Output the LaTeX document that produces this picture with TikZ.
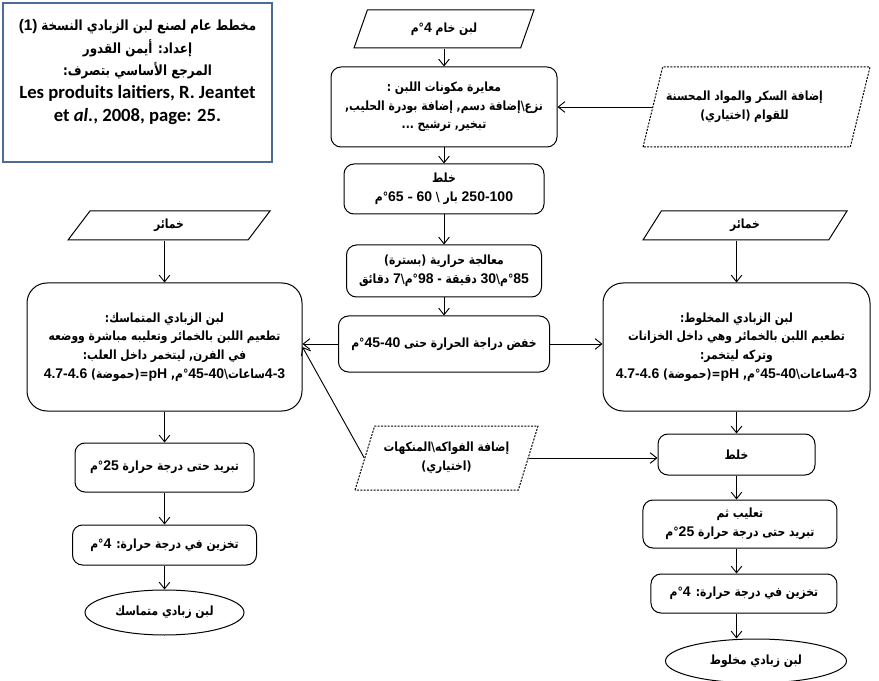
\documentclass[tikz,border=0pt]{standalone}
\usepackage{fontspec}
\setmainfont{Liberation Sans}
\newfontfamily\arfont[Script=Arabic,FakeStretch=0.85]{DejaVu Sans}
\newfontfamily\calfont{Carlito}
\TeXXeTstate=1
\usetikzlibrary{arrows.meta,positioning,shapes.geometric}
\definecolor{frameblue}{HTML}{4F6B95}
\newcommand{\ar}[1]{{\arfont\bfseries\beginR #1\endR}}
\newcommand{\nm}[1]{{\rmfamily\bfseries\fontsize{10.5}{14}\selectfont #1}}
\tikzset{
  stepbox/.style={
    rectangle, rounded corners=7.5pt, draw=black, line width=0.75pt,
    align=center, inner sep=2pt,
    font=\fontsize{9.5}{14}\selectfont
  },
  inpara/.style 2 args={
    trapezium, trapezium stretches body, draw=black, line width=0.75pt,
    trapezium left angle=#1, trapezium right angle=#2,
    align=center, inner sep=1pt,
    font=\fontsize{9.5}{14}\selectfont
  },
  optpara/.style 2 args={
    inpara={#1}{#2}, dash pattern=on 1.5pt off 1pt
  },
  endell/.style={
    ellipse, draw=black, line width=0.75pt, inner sep=0pt,
    font=\fontsize{9.5}{14}\selectfont
  },
  titlebox/.style={
    rectangle, draw=frameblue, line width=2pt,
    minimum width=201.75pt, minimum height=119.25pt
  },
  titletext/.style={
    align=center, font=\fontsize{10.5}{17.2}\selectfont
  },
  flowarrow/.style={
    -{Straight Barb[length=5pt,width=8pt]}, line width=0.7pt, color=black
  },
}

\begin{document}
\begin{tikzpicture}[x=0.75pt,y=-0.75pt]
\useasboundingbox (0,0) rectangle (879,681);

% title block
\node[titlebox] (frame) at (137.5,82.5) {};
\node[titletext] (title) at (137.5,72) {%
  {\rmfamily\bfseries\fontsize{11.5}{17}\selectfont (1)} \ar{مخطط عام لصنع لبن الزبادي النسخة}\\
  \ar{إعداد: أيمن القدور}\\
  \ar{المرجع الأساسي بتصرف:}\\
  {\calfont\bfseries\fontsize{14}{17}\selectfont Les produits laitiers, R. Jeantet}\\
  {\calfont\bfseries\fontsize{14}{17}\selectfont et \textit{al.}, 2008, page: 25.}};

% central column
\node[inpara={49}{131}, minimum width=135pt, minimum height=28.5pt] (raw) at (444,29)
  {\ar{لبن خام \nm{4}°م}};
\node[stepbox, minimum width=169.5pt, minimum height=60pt] (std) at (444,107)
  {\ar{معايرة مكونات اللبن :}\\
   \ar{نزع\textbackslash إضافة دسم, إضافة بودرة الحليب,}\\
   \ar{تبخير, ترشيح ...}};
\node[stepbox, minimum width=150pt, minimum height=37.5pt, below=12pt of std] (mix1)
  {\ar{خلط}\\
   \ar{\nm{250-100} بار \textbackslash{} \nm{60} – \nm{65}°م}};
\node[stepbox, minimum width=146.25pt, minimum height=39pt, below=22.5pt of mix1] (heat)
  {\ar{معالجة حرارية (بسترة)}\\
   \ar{\nm{85}°م\textbackslash\nm{30} دقيقة - \nm{98}°م\textbackslash\nm{7} دقائق}};
\node[stepbox, minimum width=158.25pt, minimum height=42pt, below=13.5pt of heat] (cool)
  {\ar{خفض دراجة الحرارة حتى \nm{45-40}°م}};

% optional additions
\node[optpara={60}{120}, minimum width=170.25pt, minimum height=60pt] (sugar) at (756.5,107)
  {\ar{إضافة السكر والمواد المحسنة}\hspace*{18pt}\\ \ar{للقوام (اختياري)}\hspace*{18pt}};
\node[optpara={60}{120}, minimum width=137.25pt, minimum height=48pt] (fruit) at (446.5,458)
  {\ar{إضافة الفواكه\textbackslash المنكهات}\\ \ar{(اختياري)}};

% starters
\node[inpara={35}{145}, minimum width=151.5pt, minimum height=21.75pt] (lkham) at (169,225.5)
  {\ar{خمائر}};
\node[inpara={40}{140}, minimum width=153pt, minimum height=21.75pt] (rkham) at (745,225.5)
  {\ar{خمائر}};

% set yoghurt (left)
\node[stepbox, rounded corners=15pt, minimum width=206.25pt, minimum height=96pt] (lbox) at (164.5,347)
  {\ar{لبن الزبادي المتماسك:}\\
   \ar{تطعيم اللبن بالخمائر وتعليبه مباشرة ووضعه}\\
   \ar{في الفرن, ليتخمر داخل العلب:}\\
   \ar{\nm{4-3}ساعات\textbackslash\nm{45-40}°م, \nm{pH}=(حموضة) \nm{4.7-4.6}}};
\node[stepbox, minimum width=134.25pt, minimum height=36.75pt, below=23.25pt of lbox] (lcool)
  {\ar{تبريد حتى درجة حرارة \nm{25}°م}};
\node[stepbox, minimum width=138pt, minimum height=30pt, below=24pt of lcool] (lstore)
  {\ar{تخزين في درجة حرارة: \nm{4}°م}};
\node[endell, minimum width=119.25pt, minimum height=33.75pt, below=18pt of lstore] (lend)
  {\ar{لبن زبادي متماسك}};

% stirred yoghurt (right)
\node[stepbox, rounded corners=15pt, minimum width=200.25pt, minimum height=96pt] (rbox) at (736.5,347)
  {\ar{لبن الزبادي المخلوط:}\\
   \ar{تطعيم اللبن بالخمائر وهي داخل الخزانات}\\
   \ar{وتركه ليتخمر:}\\
   \ar{\nm{4-3}ساعات\textbackslash\nm{45-40}°م, \nm{pH}=(حموضة) \nm{4.7-4.6}}};
\node[stepbox, minimum width=117.75pt, minimum height=30.75pt, below=16.5pt of rbox] (mix2)
  {\ar{خلط}};
\node[stepbox, minimum width=145.5pt, minimum height=36pt, below=18pt of mix2, xshift=2.6pt] (pack)
  {\ar{تعليب ثم}\\ \ar{تبريد حتى درجة حرارة \nm{25}°م}};
\node[stepbox, minimum width=139.5pt, minimum height=29.25pt, below=18.75pt of pack, xshift=3pt] (rstore)
  {\ar{تخزين في درجة حرارة: \nm{4}°م}};
\node[endell, minimum width=135.75pt, minimum height=33pt, below=18.75pt of rstore, xshift=9pt] (rend)
  {\ar{لبن زبادي مخلوط}};

% connectors
\draw[flowarrow] (raw.south) -- (raw.south |- std.north);
\draw[flowarrow] (std.south) -- (std.south |- mix1.north);
\draw[flowarrow] (mix1.south) -- (mix1.south |- heat.north);
\draw[flowarrow] (heat.south) -- (heat.south |- cool.north);
\draw[flowarrow] (sugar.left side) -- (sugar.left side -| std.east);
\draw[flowarrow] (cool.west) -- (cool.west -| lbox.east);
\draw[flowarrow] (cool.east) -- (cool.east -| rbox.west);
\draw[flowarrow] (fruit.left side) -- (lbox.east);
\draw[flowarrow] (fruit.right side) -- (fruit.right side -| mix2.west);
\draw[flowarrow] (lkham.south -| lcool) -- (lbox.north -| lcool);
\draw[flowarrow] (rkham.south -| mix2) -- (rbox.north -| mix2);
\draw[flowarrow] (lbox.south -| lcool) -- (lcool.north);
\draw[flowarrow] (lcool.south) -- (lcool.south |- lstore.north);
\draw[flowarrow] (lstore.south -| lcool) -- (lend.north -| lcool);
\draw[flowarrow] (rbox.south -| mix2) -- (mix2.north);
\draw[flowarrow] (mix2.south) -- (mix2.south |- pack.north);
\draw[flowarrow] (pack.south -| mix2) -- (rstore.north -| mix2);
\draw[flowarrow] (rstore.south -| mix2) -- (rend.north -| mix2);

\end{tikzpicture}
\end{document}
